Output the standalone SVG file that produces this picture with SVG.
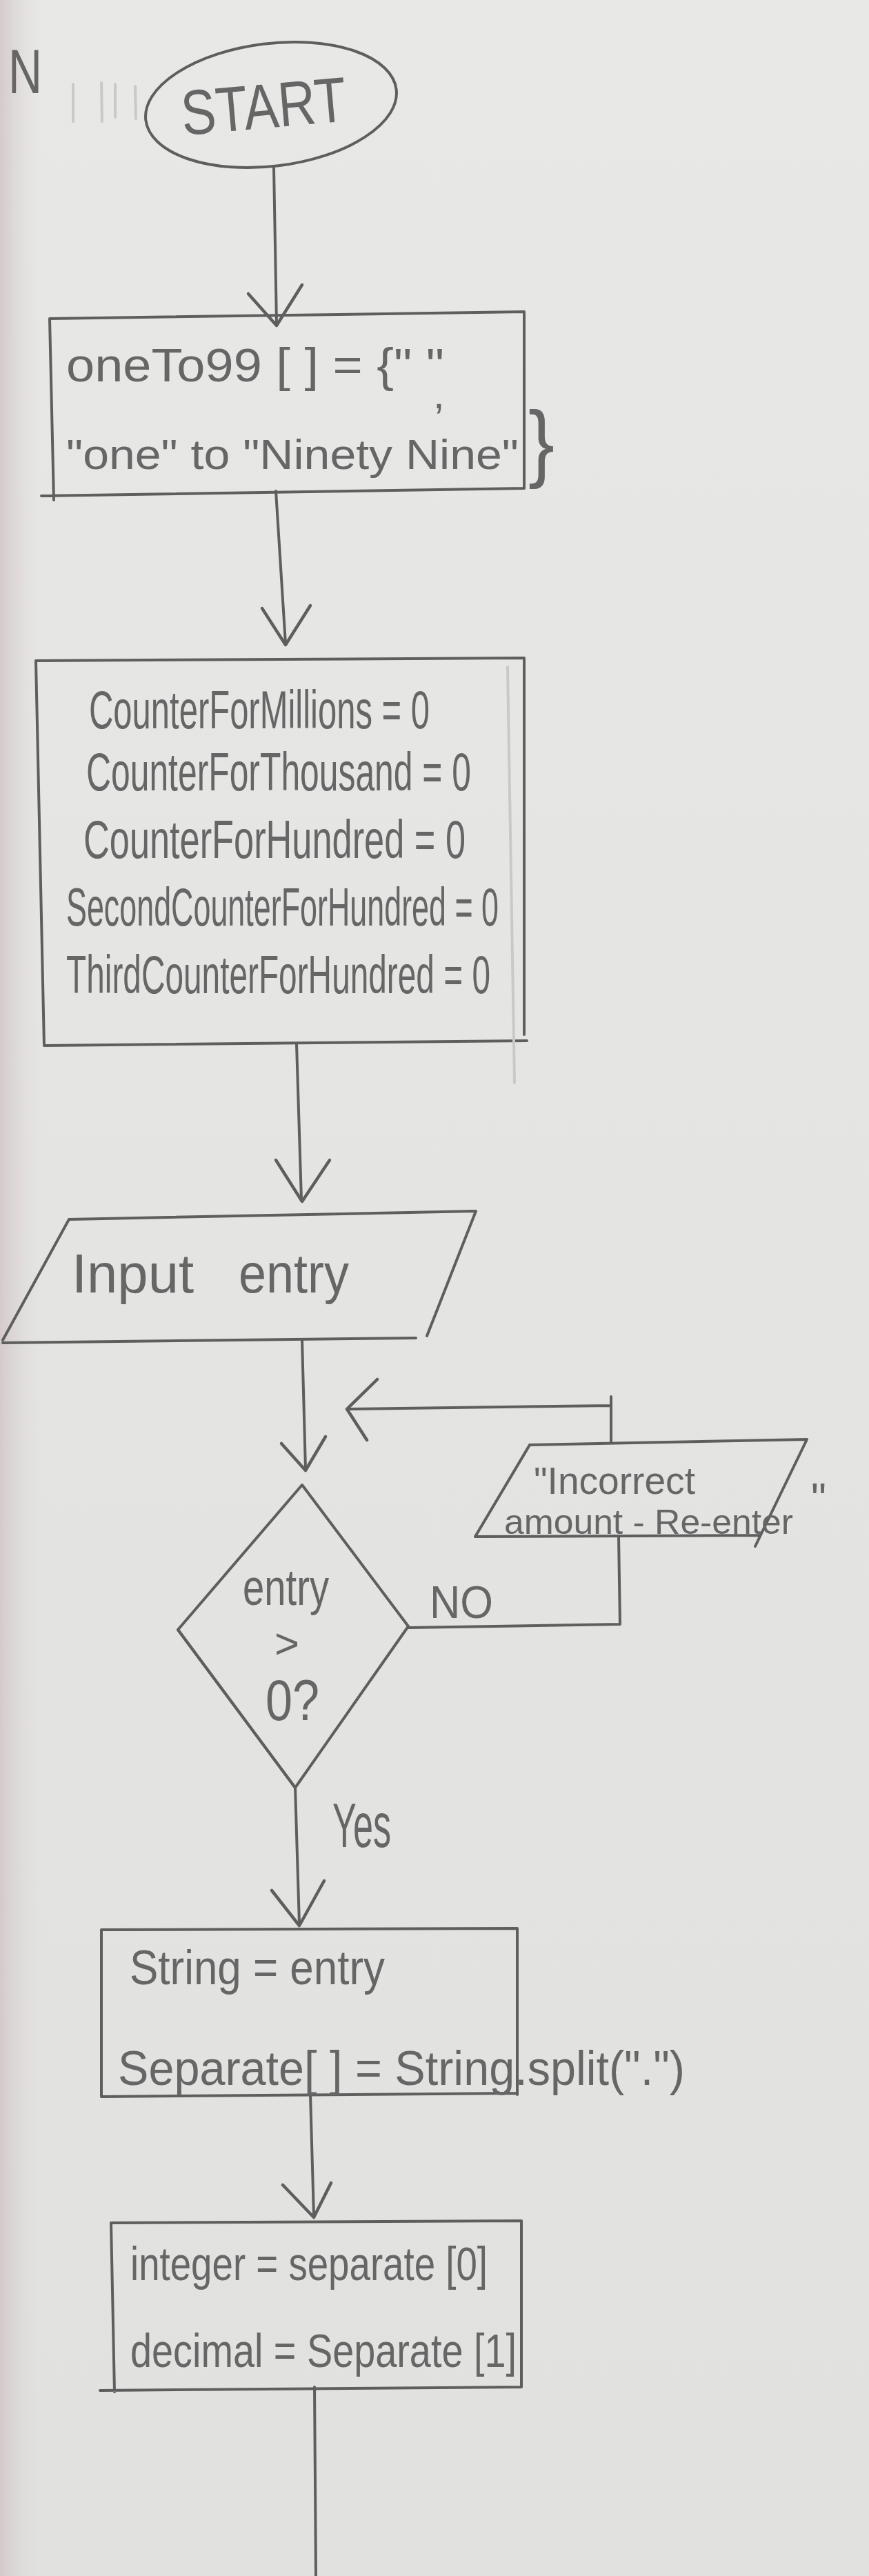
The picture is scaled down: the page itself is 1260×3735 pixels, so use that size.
<svg xmlns="http://www.w3.org/2000/svg" width="1260" height="3735" viewBox="0 0 1260 3735">
<style>
.ln{fill:none;stroke:#5e5e5e;stroke-width:4;stroke-linecap:round;stroke-linejoin:round}
.hd{fill:none;stroke:#5e5e5e;stroke-width:4.5;stroke-linecap:round;stroke-linejoin:round}
.faint{fill:none;stroke:#c9c9c9;stroke-width:4;stroke-linecap:round}
.t{font-family:"Liberation Sans","Arial",sans-serif;fill:#666;font-weight:normal}
</style>
<defs>
<linearGradient id="paper" x1="0" y1="0" x2="0" y2="1">
<stop offset="0" stop-color="#e8e8e7"/>
<stop offset="0.5" stop-color="#e4e4e3"/>
<stop offset="1" stop-color="#e1e1e0"/>
</linearGradient>
<linearGradient id="edge" x1="0" y1="0" x2="1" y2="0">
<stop offset="0" stop-color="#d3c7c8" stop-opacity="0.9"/>
<stop offset="1" stop-color="#e2dcdc" stop-opacity="0"/>
</linearGradient>
</defs>
<rect x="0" y="0" width="1260" height="3735" fill="url(#paper)"/>
<rect x="0" y="0" width="60" height="3735" fill="url(#edge)"/>

<g id="connectors">
<path class="ln" d="M397,243 L401,470"/>
<polyline class="hd" points="360,426 401,472 438,413"/>
<path class="ln" d="M400,712 L414,933"/>
<polyline class="hd" points="380,882 414,935 450,878"/>
<path class="ln" d="M430,1514 L437,1740"/>
<polyline class="hd" points="400,1682 438,1742 478,1682"/>
<path class="ln" d="M438,1943 L443,2130"/>
<polyline class="hd" points="408,2093 443,2132 472,2083"/>
<path class="ln" d="M592,2360 L899,2355 L897,2228"/>
<path class="ln" d="M886,2092 L886,2025 M886,2038 L504,2043"/>
<polyline class="hd" points="547,2000 503,2043 532,2088"/>
<path class="ln" d="M428,2592 L434,2790"/>
<polyline class="hd" points="394,2741 434,2792 470,2727"/>
<path class="ln" d="M450,3037 L455,3213"/>
<polyline class="hd" points="410,3168 455,3215 480,3165"/>
<path class="ln" d="M456,3461 L458,3735"/>
<text class="t" x="623" y="2346" font-size="66" textLength="92" lengthAdjust="spacingAndGlyphs">NO</text>
<text class="t" x="482" y="2678" font-size="90" textLength="85" lengthAdjust="spacingAndGlyphs">Yes</text>
</g>

<g id="marks">
<text class="t" x="12" y="135" font-size="90" textLength="49" lengthAdjust="spacingAndGlyphs">N</text>
<path class="faint" d="M106,122 L106,176 M147,120 L148,176 M167,122 L167,170 M196,125 L197,172"/>
</g>

<g id="start">
<ellipse class="ln" cx="393" cy="152" rx="183" ry="89" transform="rotate(-7 393 152)"/>
<text class="t" x="262" y="186" font-size="92" textLength="240" lengthAdjust="spacingAndGlyphs" transform="rotate(-5 380 150)">START</text>
</g>

<g id="init-array">
<path class="ln" d="M72,462 L760,452 M760,452 L760,708 M60,719 L760,708 M72,462 L78,725"/>
<text class="t" x="96" y="553" font-size="68" textLength="548" lengthAdjust="spacingAndGlyphs">oneTo99 [ ] = {" "</text>
<text class="t" x="628" y="592" font-size="60">,</text>
<text class="t" x="96" y="680" font-size="62" textLength="656" lengthAdjust="spacingAndGlyphs">"one" to "Ninety Nine"</text>
<text class="t" x="766" y="683" font-size="124" textLength="38" lengthAdjust="spacingAndGlyphs">}</text>
</g>

<g id="init-counters">
<path class="ln" d="M52,958 L760,954 M760,954 L760,1500 M64,1516 L764,1509 M52,958 L64,1516"/>
<path class="faint" d="M736,967 L746,1570" stroke-width="3"/>
<text class="t" x="129" y="1056" font-size="78" textLength="494" lengthAdjust="spacingAndGlyphs">CounterForMillions = 0</text>
<text class="t" x="125" y="1146" font-size="78" textLength="558" lengthAdjust="spacingAndGlyphs">CounterForThousand = 0</text>
<text class="t" x="121" y="1244" font-size="78" textLength="554" lengthAdjust="spacingAndGlyphs">CounterForHundred = 0</text>
<text class="t" x="96" y="1342" font-size="78" textLength="627" lengthAdjust="spacingAndGlyphs">SecondCounterForHundred = 0</text>
<text class="t" x="96" y="1440" font-size="78" textLength="615" lengthAdjust="spacingAndGlyphs">ThirdCounterForHundred = 0</text>
</g>

<g id="input-entry">
<path class="ln" d="M100,1768 L690,1756 M690,1756 L619,1937 M603,1940 L4,1947 M100,1768 L4,1943"/>
<text class="t" x="104" y="1874" font-size="80" textLength="177" lengthAdjust="spacingAndGlyphs">Input</text>
<text class="t" x="346" y="1874" font-size="80" textLength="160" lengthAdjust="spacingAndGlyphs">entry</text>
</g>

<g id="decision">
<path class="ln" d="M438,2153 L592,2358 L428,2592 L258,2363 Z"/>
<path class="ln" d="M258,2363 L428,2592" stroke-width="6"/>
<text class="t" x="352" y="2327" font-size="74" textLength="125" lengthAdjust="spacingAndGlyphs">entry</text>
<text class="t" x="398" y="2404" font-size="62" textLength="36" lengthAdjust="spacingAndGlyphs">&gt;</text>
<text class="t" x="385" y="2494" font-size="84" textLength="78" lengthAdjust="spacingAndGlyphs">0?</text>
</g>

<g id="error-output">
<path class="ln" d="M768,2095 L1170,2087 M1170,2087 L1095,2242 M689,2228 L1102,2226 M768,2095 L689,2228"/>
<text class="t" x="774" y="2166" font-size="56" textLength="234" lengthAdjust="spacingAndGlyphs">"Incorrect</text>
<text class="t" x="731" y="2224" font-size="50" textLength="419" lengthAdjust="spacingAndGlyphs">amount - Re-enter</text>
<text class="t" x="1176" y="2196" font-size="64" textLength="22" lengthAdjust="spacingAndGlyphs">"</text>
</g>

<g id="split-string">
<path class="ln" d="M147,2798 L750,2796 M750,2796 L750,3037 M147,3040 L750,3035 M147,2798 L147,3040"/>
<text class="t" x="188" y="2877" font-size="70" textLength="370" lengthAdjust="spacingAndGlyphs">String = entry</text>
<text class="t" x="171" y="3023" font-size="70" textLength="822" lengthAdjust="spacingAndGlyphs">Separate[ ] = String.split(".")</text>
</g>

<g id="assign-parts">
<path class="ln" d="M161,3223 L756,3220 M756,3220 L756,3461 M145,3466 L756,3461 M161,3223 L166,3468"/>
<text class="t" x="189" y="3306" font-size="68" textLength="518" lengthAdjust="spacingAndGlyphs">integer = separate [0]</text>
<text class="t" x="189" y="3432" font-size="68" textLength="560" lengthAdjust="spacingAndGlyphs">decimal = Separate [1]</text>
</g>
</svg>
